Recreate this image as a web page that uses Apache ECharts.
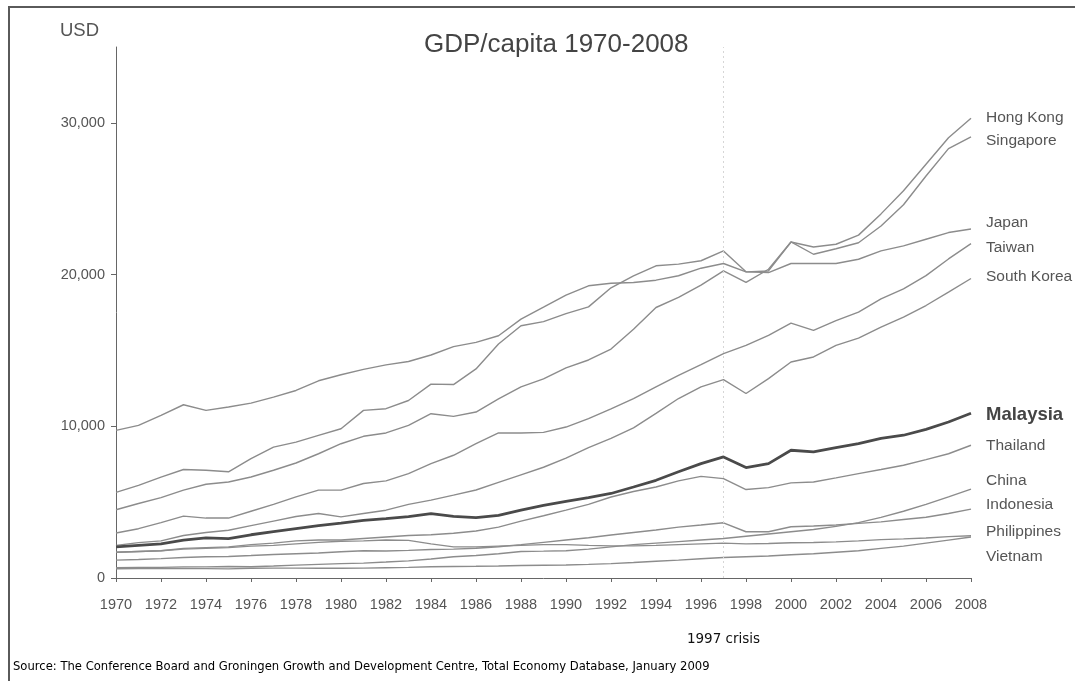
<!DOCTYPE html>
<html>
<head>
<meta charset="utf-8">
<script src="https://cdn.jsdelivr.net/npm/echarts@6/dist/echarts.min.js"></script>
<style>
html,body{margin:0;padding:0;background:#fff;}
#chart{width:1075px;height:681px;}
</style>
</head>
<body>
<div id="chart"></div>
<script>
const years = [1970,1971,1972,1973,1974,1975,1976,1977,1978,1979,1980,1981,1982,1983,1984,1985,1986,1987,1988,1989,1990,1991,1992,1993,1994,1995,1996,1997,1998,1999,2000,2001,2002,2003,2004,2005,2006,2007,2008];
const xTicks = [1970,1972,1974,1976,1978,1980,1982,1984,1986,1988,1990,1992,1994,1996,1998,2000,2002,2004,2006,2008];
const yTicks = [0,10000,20000,30000];

const hongKong    = [5640,6100,6650,7150,7100,7000,7870,8630,8960,9400, 9840,11050,11160,11700,12780,12750,13780,15420,16630,16900, 17430,17870,19130,19920,20580,20690,20910,21560,20180,20240, 22150,21820,22000,22600,24000,25520,27270,29020,30300];
const singapore   = [4500,4910,5300,5790,6180,6330,6660,7100,7580,8190, 8850,9340,9560,10060,10830,10650,10940,11800,12600,13120, 13850,14370,15090,16400,17830,18490,19310,20240,19480,20350, 22150,21340,21700,22100,23200,24600,26500,28300,29080];
const japan       = [9730,10060,10720,11420,11050,11270,11530,11920,12360,13000, 13400,13750,14050,14270,14700,15250,15530,15970,17060,17850, 18650,19260,19430,19480,19630,19920,20420,20730,20180,20130, 20730,20730,20730,21010,21560,21890,22330,22770,23000];
const taiwan      = [2970,3250,3650,4080,3950,3950,4400,4850,5350,5790, 5790,6230,6400,6880,7540,8090,8850,9560,9560,9600, 9950,10500,11150,11830,12600,13360,14060,14790,15330,15990, 16800,16320,16970,17530,18400,19060,19930,21030,22040];
const southKorea  = [2150,2330,2450,2800,3000,3150,3450,3750,4050,4250, 4030,4250,4470,4850,5130,5460,5800,6300,6800,7300, 7900,8600,9200,9900,10850,11830,12600,13080,12160,13140, 14240,14570,15330,15810,16540,17200,17960,18840,19740];
const malaysia    = [2050,2150,2250,2500,2650,2600,2850,3050,3250,3450, 3620,3800,3910,4050,4240,4060,3980,4130,4470,4780, 5050,5300,5570,6000,6440,7000,7540,7980,7280,7540, 8420,8310,8600,8860,9200,9410,9800,10280,10860];
const thailand    = [1700,1750,1800,1950,2000,2050,2200,2300,2450,2500, 2500,2600,2700,2800,2850,2950,3100,3350,3750,4100, 4470,4850,5340,5700,6000,6400,6700,6550,5830,5960, 6270,6330,6600,6880,7150,7430,7800,8190,8750];
const china       = [680,700,700,730,730,760,740,790,850,900, 950,980,1050,1130,1250,1400,1480,1600,1750,1770, 1800,1900,2050,2200,2300,2400,2500,2600,2750,2900, 3050,3200,3400,3650,4000,4400,4850,5350,5860];
const indonesia   = [1180,1220,1280,1350,1400,1420,1480,1550,1600,1650, 1730,1800,1780,1820,1880,1900,1960,2060,2200,2350, 2500,2650,2830,3000,3160,3350,3490,3640,3050,3050, 3380,3430,3490,3600,3700,3860,4000,4250,4540];
const philippines = [1700,1750,1800,1900,1950,2000,2100,2150,2250,2350, 2420,2450,2500,2480,2250,2050,2050,2100,2150,2200, 2200,2150,2120,2120,2150,2200,2250,2300,2250,2270, 2320,2340,2380,2450,2530,2580,2640,2730,2780];
const vietnam     = [610,620,630,630,620,600,640,650,650,640, 640,650,680,700,740,760,770,790,820,840, 860,900,950,1020,1100,1180,1270,1350,1400,1450, 1530,1600,1700,1800,1950,2100,2300,2500,2700];

const seriesDefs = [
  {name:'Hong Kong', values:hongKong, dy:-1},
  {name:'Singapore', values:singapore, dy:4},
  {name:'Japan', values:japan, dy:-6},
  {name:'Taiwan', values:taiwan, dy:4},
  {name:'South Korea', values:southKorea, dy:-2},
  {name:'Malaysia', values:malaysia, dy:2, bold:true},
  {name:'Thailand', values:thailand, dy:0},
  {name:'China', values:china, dy:-8},
  {name:'Indonesia', values:indonesia, dy:-4},
  {name:'Philippines', values:philippines, dy:-4},
  {name:'Vietnam', values:vietnam, dy:20}
];

const FONT = '"Liberation Sans", Arial, sans-serif';

const series = seriesDefs.map(function(s, idx){
  const o = {
    name: s.name,
    type: 'line',
    data: years.map(function(y,i){ return [y, s.values[i]]; }),
    symbol: 'none',
    smooth: false,
    silent: true,
    z: s.bold ? 5 : 2,
    lineStyle: { color: s.bold ? '#4a4a4a' : '#8c8c8c', width: s.bold ? 2.8 : 1.4 },
    endLabel: {
      show: true,
      formatter: s.name,
      distance: 15,
      offset: [0, s.dy],
      color: s.bold ? '#444' : '#555',
      fontFamily: FONT,
      fontSize: s.bold ? 18.5 : 15.5,
      fontWeight: s.bold ? 'bold' : 'normal'
    }
  };
  if (idx === 0) {
    o.markLine = {
      silent: true,
      symbol: 'none',
      animation: false,
      lineStyle: { color: '#d6d6d6', type: [2, 3], width: 1 },
      label: {
        show: true,
        position: 'start',
        distance: 54,
        formatter: '1997 crisis',
        color: '#111',
        fontFamily: '"DejaVu Sans", sans-serif',
        fontSize: 13.5
      },
      data: [{ xAxis: 1997 }]
    };
  }
  return o;
});

const chart = echarts.init(document.getElementById('chart'), null, {renderer:'canvas'});
chart.setOption({
  animation: false,
  backgroundColor: '#fff',
  title: [
    { text: 'GDP/capita 1970-2008', left: 419, top: 27,
      textStyle: { fontFamily: FONT, fontSize: 26, fontWeight: 'normal', color: '#444' } },
    { text: 'USD', left: 55, top: 16,
      textStyle: { fontFamily: FONT, fontSize: 18.5, fontWeight: 'normal', color: '#555' } },
    { text: 'Source: The Conference Board and Groningen Growth and Development Centre, Total Economy Database, January 2009',
      left: 8, top: 656,
      textStyle: { fontFamily: '"DejaVu Sans", sans-serif', fontSize: 11.6, fontWeight: 'normal', color: '#000' } }
  ],
  grid: { left: 116, right: 104, top: 47, bottom: 103 },
  xAxis: {
    type: 'value', min: 1970, max: 2008, interval: 2,
    axisLine: { lineStyle: { color: '#666', width: 1 } },
    axisTick: { show: true, length: 4, lineStyle: { color: '#666' } },
    axisLabel: { color: '#555', fontFamily: FONT, fontSize: 14.5, margin: 19,
      formatter: function(v){ return xTicks.indexOf(v) >= 0 ? String(v) : ''; } },
    splitLine: { show: false }
  },
  yAxis: {
    type: 'value', min: 0, max: 35000, interval: 10000,
    axisLine: { show: true, lineStyle: { color: '#666', width: 1 } },
    axisTick: { show: true, length: 5, lineStyle: { color: '#666' } },
    axisLabel: { color: '#555', fontFamily: FONT, fontSize: 14.5, margin: 11, showMaxLabel: false,
      formatter: function(v){ return yTicks.indexOf(v) >= 0 ? v.toLocaleString('en-US') : ''; } },
    splitLine: { show: false }
  },
  graphic: [
    { type: 'rect', silent: true, z: 100,
      shape: { x: 9, y: 7, width: 1200, height: 800 },
      style: { fill: 'none', stroke: '#5a5a5a', lineWidth: 2 } }
  ],
  series: series
});
</script>
</body>
</html>
